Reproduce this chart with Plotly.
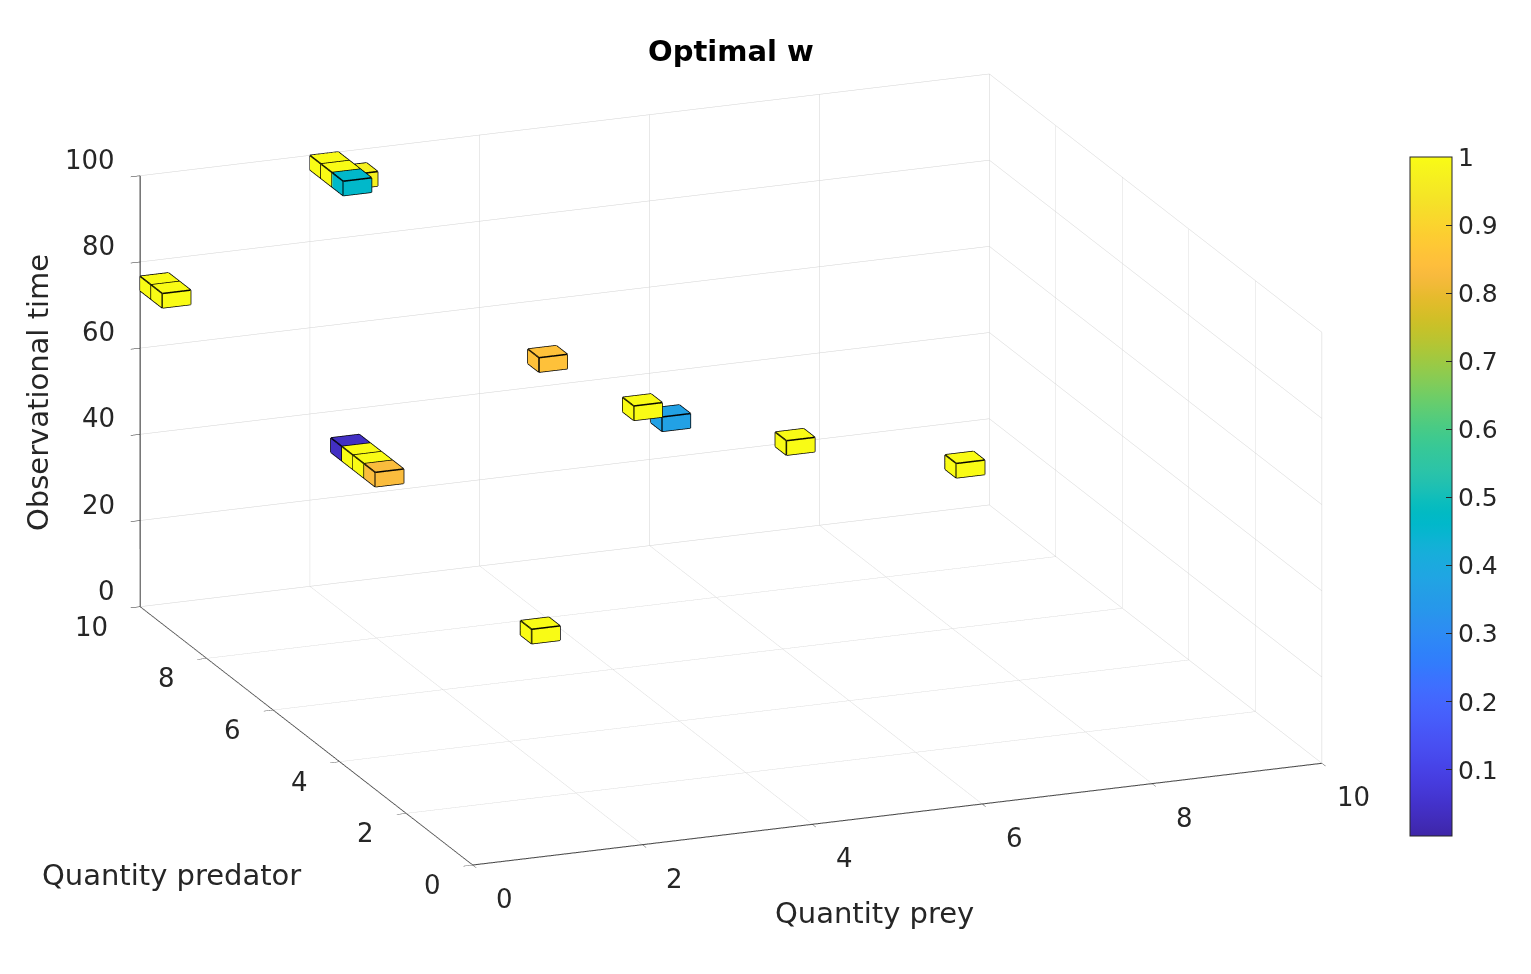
import plotly.graph_objects as go

# ---------------- data (voxel centres) ----------------
prey = [2.1667, 2.1667, 2.1667, 2.5, 0.1667, 0.1667, 3.1667, 3.5, 3.8333,
        1.5, 1.5, 1.5, 1.5, 5.1667, 7.1667, 2.1667]
predator = [9.8333, 9.5, 9.1667, 9.8333, 9.8333, 9.5, 5.8333, 3.8333, 3.8333,
            7.5, 7.1667, 6.8333, 6.5, 3.5, 3.5, 3.5]
obs_time = [98.333, 98.333, 98.333, 95.0, 75.0, 75.0, 75.0, 75.0, 71.667,
            48.333, 48.333, 48.333, 48.333, 65.0, 55.0, 28.333]
w_opt = [1.0, 1.0, 0.46, 0.97, 1.0, 1.0, 0.85, 1.0, 0.37,
         0.04, 1.0, 1.0, 0.83, 1.0, 1.0, 1.0]

prey_ticks = [0, 2, 4, 6, 8, 10]
pred_ticks = [0, 2, 4, 6, 8, 10]
time_ticks = [0, 20, 40, 60, 80, 100]
cbar_ticks = [0.1, 0.2, 0.3, 0.4, 0.5, 0.6, 0.7, 0.8, 0.9, 1.0]

# voxel half sizes (style)
HX, HY, HZ = 1 / 6, 1 / 6, 5 / 3

parula = [
    (0.2422, 0.1504, 0.6603), (0.2504, 0.1650, 0.7076), (0.2578, 0.1818, 0.7511),
    (0.2647, 0.1978, 0.7952), (0.2706, 0.2147, 0.8364), (0.2751, 0.2342, 0.8710),
    (0.2783, 0.2559, 0.8991), (0.2803, 0.2782, 0.9221), (0.2813, 0.3006, 0.9414),
    (0.2810, 0.3228, 0.9579), (0.2795, 0.3447, 0.9717), (0.2760, 0.3667, 0.9829),
    (0.2699, 0.3892, 0.9906), (0.2602, 0.4123, 0.9952), (0.2440, 0.4358, 0.9988),
    (0.2206, 0.4603, 0.9973), (0.1963, 0.4847, 0.9892), (0.1834, 0.5074, 0.9798),
    (0.1786, 0.5289, 0.9682), (0.1764, 0.5499, 0.9520), (0.1687, 0.5703, 0.9359),
    (0.1540, 0.5902, 0.9218), (0.1460, 0.6091, 0.9079), (0.1380, 0.6276, 0.8973),
    (0.1248, 0.6459, 0.8883), (0.1113, 0.6635, 0.8763), (0.0952, 0.6798, 0.8598),
    (0.0689, 0.6948, 0.8394), (0.0297, 0.7082, 0.8163), (0.0036, 0.7203, 0.7917),
    (0.0067, 0.7312, 0.7660), (0.0433, 0.7411, 0.7394), (0.0964, 0.7500, 0.7120),
    (0.1408, 0.7584, 0.6842), (0.1717, 0.7670, 0.6554), (0.1938, 0.7758, 0.6251),
    (0.2161, 0.7843, 0.5923), (0.2470, 0.7918, 0.5567), (0.2906, 0.7973, 0.5188),
    (0.3406, 0.8008, 0.4789), (0.3909, 0.8029, 0.4354), (0.4456, 0.8024, 0.3909),
    (0.5044, 0.7993, 0.3480), (0.5616, 0.7942, 0.3045), (0.6174, 0.7876, 0.2612),
    (0.6720, 0.7793, 0.2227), (0.7242, 0.7698, 0.1910), (0.7738, 0.7598, 0.1646),
    (0.8203, 0.7498, 0.1535), (0.8634, 0.7406, 0.1596), (0.9035, 0.7330, 0.1774),
    (0.9393, 0.7288, 0.2100), (0.9728, 0.7298, 0.2394), (0.9956, 0.7434, 0.2371),
    (0.9970, 0.7659, 0.2199), (0.9952, 0.7893, 0.2028), (0.9892, 0.8136, 0.1885),
    (0.9786, 0.8386, 0.1766), (0.9676, 0.8639, 0.1643), (0.9610, 0.8890, 0.1537),
    (0.9597, 0.9135, 0.1423), (0.9628, 0.9373, 0.1265), (0.9691, 0.9606, 0.1064),
    (0.9769, 0.9839, 0.0805)]
n = len(parula)
colorscale = [[i / (n - 1), "rgb(%d,%d,%d)" % tuple(round(255 * c) for c in rgb)]
              for i, rgb in enumerate(parula)]

# ---------------- build voxel meshes ----------------
vx, vy, vz, fi, fj, fk, fint = [], [], [], [], [], [], []
ex, ey, ez = [], [], []
tri = [(0, 1, 2), (0, 2, 3), (4, 5, 6), (4, 6, 7), (0, 1, 5), (0, 5, 4),
       (3, 2, 6), (3, 6, 7), (0, 3, 7), (0, 7, 4), (1, 2, 6), (1, 6, 5)]
edges = [(0, 1), (1, 2), (2, 3), (3, 0), (4, 5), (5, 6), (6, 7), (7, 4),
         (0, 4), (1, 5), (2, 6), (3, 7)]
for cx, cy, cz, w in zip(prey, predator, obs_time, w_opt):
    x0, x1 = cx - HX, cx + HX
    y0, y1 = cy - HY, cy + HY
    z0, z1 = cz - HZ, cz + HZ
    corners = [(x0, y0, z0), (x1, y0, z0), (x1, y1, z0), (x0, y1, z0),
               (x0, y0, z1), (x1, y0, z1), (x1, y1, z1), (x0, y1, z1)]
    base = len(vx)
    for p in corners:
        vx.append(p[0]); vy.append(p[1]); vz.append(p[2])
    for a, b, c in tri:
        fi.append(base + a); fj.append(base + b); fk.append(base + c)
        fint.append(w)
    for a, b in edges:
        ex += [corners[a][0], corners[b][0], None]
        ey += [corners[a][1], corners[b][1], None]
        ez += [corners[a][2], corners[b][2], None]

TXT = "#262626"
FONT = "DejaVu Sans"
W, H = 1531, 974
OFF = 8  # page body margin


def px(xp):
    return (xp - OFF) / W


def py(yp):
    return 1 - (yp - OFF) / H


mesh = go.Mesh3d(
    x=vx, y=vy, z=vz, i=fi, j=fj, k=fk,
    intensity=fint, intensitymode="cell",
    colorscale=colorscale, cmin=0.003, cmax=1.0,
    flatshading=True,
    lighting=dict(ambient=1.0, diffuse=0.0, specular=0.0, roughness=1.0, fresnel=0.0),
    hoverinfo="skip",
    colorbar=dict(
        x=px(1410), xanchor="left", y=py(157), yanchor="top", xpad=0, ypad=0,
        thicknessmode="pixels", thickness=42, lenmode="pixels", len=679,
        outlinewidth=1, outlinecolor=TXT,
        tickvals=cbar_ticks, ticktext=["%g" % t for t in cbar_ticks],
        ticks="inside", ticklen=6, tickcolor=TXT,
        tickfont=dict(family=FONT, size=25, color=TXT),
    ),
)
edges_trace = go.Scatter3d(x=ex, y=ey, z=ez, mode="lines",
                           line=dict(color="black", width=3),
                           hoverinfo="skip", showlegend=False)


def axis(rng, ticks):
    return dict(range=rng, tickvals=ticks, showticklabels=False,
                title=dict(text=""), showgrid=True, gridcolor="#d2d2d2", gridwidth=1,
                showline=True, linecolor=TXT, linewidth=2,
                ticks="outside", ticklen=10, tickcolor=TXT,
                showbackground=False, zeroline=False, showspikes=False,
                autorange=False)


# tick labels as scene annotations at the tick positions
tick_font = dict(family=FONT, size=26, color=TXT)
scene_ann = []
for t in prey_ticks:
    scene_ann.append(dict(x=t, y=0, z=0, text=str(t), showarrow=False,
                          xanchor="center", yanchor="middle", xshift=32, yshift=-34,
                          font=tick_font))
for t in pred_ticks:
    scene_ann.append(dict(x=0, y=t, z=0, text=str(t), showarrow=False,
                          xanchor="right", yanchor="middle", xshift=-30, yshift=-20,
                          font=tick_font))
for t in time_ticks:
    scene_ann.append(dict(x=0, y=10, z=t, text=str(t), showarrow=False,
                          xanchor="right", yanchor="middle", xshift=-23, yshift=16,
                          font=tick_font))

S = 1.977  # overall zoom of the box
r = 3.0
d = (-0.348, -0.886, 0.305)
fig = go.Figure([mesh, edges_trace])
fig.update_layout(
    width=W, height=H, paper_bgcolor="white", plot_bgcolor="white",
    margin=dict(l=0, r=0, t=0, b=0),
    font=dict(family=FONT, color=TXT),
    scene=dict(
        domain=dict(x=[0, 2 * px(731)], y=[2 * py(469.5) - 1, 1.0]),
        xaxis=axis([0, 10], prey_ticks),
        yaxis=axis([0, 10], pred_ticks),
        zaxis=axis([0, 100], time_ticks),
        aspectmode="manual", aspectratio=dict(x=S * 1.0, y=S * 0.997, z=S * 0.496),
        camera=dict(eye=dict(x=r * d[0], y=r * d[1], z=r * d[2]),
                    center=dict(x=0, y=0, z=0), up=dict(x=0, y=0, z=1),
                    projection=dict(type="orthographic")),
        annotations=scene_ann,
    ),
    annotations=[
        dict(text="<b>Optimal w</b>", x=px(731), y=py(51), xref="paper", yref="paper",
             xanchor="center", yanchor="middle",
             showarrow=False, font=dict(family=FONT, size=29, color="black")),
        dict(text="Quantity prey", x=px(875), y=py(913), xref="paper", yref="paper",
             xanchor="center", yanchor="middle",
             showarrow=False, font=dict(family=FONT, size=29, color=TXT)),
        dict(text="Quantity predator", x=px(171), y=py(875), xref="paper", yref="paper",
             xanchor="center", yanchor="middle",
             showarrow=False, font=dict(family=FONT, size=29, color=TXT)),
        dict(text="Observational time", x=px(38), y=py(393), xref="paper", yref="paper",
             xanchor="center", yanchor="middle",
             showarrow=False, textangle=-90, font=dict(family=FONT, size=29, color=TXT)),
    ],
)
fig.write_html("out.html")
